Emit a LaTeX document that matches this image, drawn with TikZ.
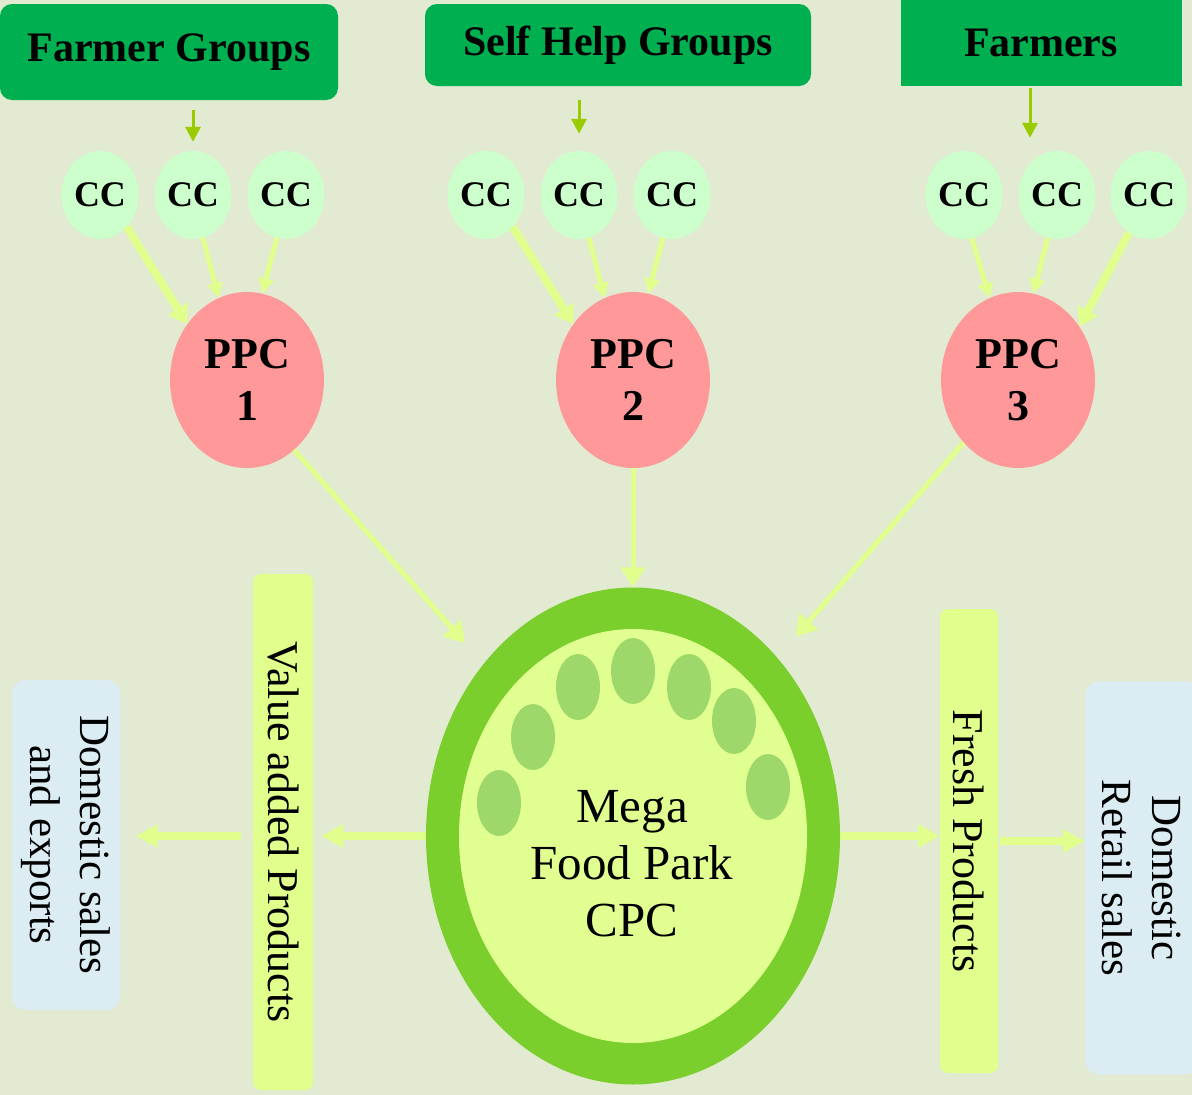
\documentclass[tikz,border=0pt]{standalone}
\usepackage{fontspec}
\setmainfont{Liberation Serif}
\usetikzlibrary{arrows.meta,shapes.geometric}

\definecolor{bgcol}{HTML}{E2EAD1}
\definecolor{boxgreen}{HTML}{00AF50}
\definecolor{cccol}{HTML}{CCFFCC}
\definecolor{ppccol}{HTML}{FF9999}
\definecolor{ringcol}{HTML}{7ACF2D}
\definecolor{parkcol}{HTML}{E1FF91}
\definecolor{seedcol}{HTML}{9FD86A}
\definecolor{salescol}{HTML}{DBEDF2}
\definecolor{flowcol}{HTML}{E0FF8C}
\definecolor{feedcol}{HTML}{99CC00}

\begin{document}
\begin{tikzpicture}[x=1pt,y=-1pt,
  every node/.style={inner sep=0pt},
  grp/.style={fill=boxgreen, rounded corners=12pt, font=\fontsize{42}{48}\selectfont\bfseries},
  cc/.style={ellipse, fill=cccol, minimum width=77pt, minimum height=88pt, font=\fontsize{36}{40}\selectfont\bfseries},
  ppc/.style={ellipse, fill=ppccol, minimum width=154pt, minimum height=176pt, align=center, font=\fontsize{44}{52}\selectfont\bfseries},
  bar/.style={fill=flowcol, rounded corners=8pt, rotate=-90, font=\fontsize{44}{50}\selectfont},
  sales/.style={fill=salescol, rounded corners=14pt, rotate=-90, align=center, font=\fontsize{43}{50}\selectfont},
  feed/.style={draw=feedcol, line width=3pt, -{Triangle[width=15pt,length=15pt]}},
  ccflow/.style={draw=flowcol, line width=5pt, -{Triangle[width=15pt,length=15pt]}},
  ccflowthick/.style={draw=flowcol, line width=8pt, -{Triangle[width=22pt,length=18pt]}},
  ppcflow/.style={draw=flowcol, line width=5pt, -{Triangle[width=24pt,length=20pt]}},
  outflow/.style={draw=flowcol, line width=8pt, -{Triangle[width=22pt,length=22pt]}}]

%%%%%%%%%%%%%%%%%%Draw Background%%%%%%%%%%%%%%%
\useasboundingbox (0,0) rectangle (1192,1095);
\fill[bgcol] (0,0) rectangle (1192,1095);

%%%%%%%%%%%%%%Draw The Source Boxes%%%%%%%%%%%%%%
\node[grp, minimum width=338pt, minimum height=96pt] (fg) at (169,52) {Farmer Groups};
\node[grp, minimum width=386pt, minimum height=82pt] (shg) at (618,45) {Self Help Groups};
\node[grp, sharp corners, minimum width=281pt, minimum height=86pt] (fm) at (1041,43) {Farmers};

%%%%%%%%%%%%%%Draw Collection Centres%%%%%%%%%%%%%%
\node[cc] (cc11) at (100,195) {CC};
\node[cc] (cc12) at (193,195) {CC};
\node[cc] (cc13) at (286,195) {CC};
\node[cc] (cc21) at (486,195) {CC};
\node[cc] (cc22) at (579,195) {CC};
\node[cc] (cc23) at (672,195) {CC};
\node[cc] (cc31) at (964,195) {CC};
\node[cc] (cc32) at (1057,195) {CC};
\node[cc] (cc33) at (1149,195) {CC};

%%%%%%%%%%%%%%Draw Primary Processing Centres%%%%%%%%%%%%%%
\node[ppc] (ppc1) at (247,380) {PPC\\1};
\node[ppc] (ppc2) at (633,380) {PPC\\2};
\node[ppc] (ppc3) at (1018,380) {PPC\\3};

%%%%%%%%%%%%%%Draw The Mega Food Park%%%%%%%%%%%%%%
\node[ellipse, fill=ringcol, minimum width=414pt, minimum height=497pt] (park) at (633,836) {};
\node[ellipse, fill=parkcol, minimum width=348pt, minimum height=414pt] (parkin) at (633,836) {};
\foreach \sx/\sy in {499/803,533/737,578/687,633/671,689/687,734/721,768/787}
  \fill[seedcol] (\sx,\sy) ellipse [x radius=22, y radius=33];
\node[align=center, font=\fontsize{49}{57}\selectfont] (parktext) at (632,864) {Mega\\Food Park\\CPC};

%%%%%%%%%%%%%%Draw Product And Sales Boxes%%%%%%%%%%%%%%
\node[bar, minimum width=516pt, minimum height=60pt] (va) at (283,832) {Value added Products};
\node[bar, minimum width=464pt, minimum height=58pt] (fp) at (969,841) {Fresh Products};
\node[sales, minimum width=330pt, minimum height=109pt] (ds) at (66,845) {Domestic sales\\and exports};
\node[sales, minimum width=393pt, minimum height=114pt] (dr) at (1142,878) {Domestic\\Retail sales};

%%%%%%%%%%%%%%Draw Feeds Into Collection Centres%%%%%%%%%%%%%%
\draw[feed, shorten <=10pt, shorten >=9pt] (fg.south -| cc12.north) -- (cc12.north);
\draw[feed, shorten <=14pt, shorten >=17pt] (shg.south -| cc22.north) -- (cc22.north);
\draw[feed, shorten <=2pt, shorten >=13pt] ([xshift=-11pt]fm.south) -- ([xshift=-11pt]fm.south |- cc32.north);

%%%%%%%%%%%%%%Draw Maps From CC to PPC%%%%%%%%%%%%%%
\draw[ccflowthick] (cc11.-50) -- (ppc1.137);
\draw[ccflow] (cc12.-77) -- (ppc1.109);
\draw[ccflow] (cc13.-102) -- (ppc1.80);
\draw[ccflowthick] (cc21.-50) -- (ppc2.137);
\draw[ccflow] (cc22.-77) -- (ppc2.109);
\draw[ccflow] (cc23.-102) -- (ppc2.80);
\draw[ccflow] (cc31.-80) -- (ppc3.109);
\draw[ccflow] (cc32.-102) -- (ppc3.80);
\draw[ccflowthick] (cc33.-118) -- (ppc3.41);

%%%%%%%%%%%%%%Draw Maps From PPC to Park%%%%%%%%%%%%%%
\draw[ppcflow, shorten >=28pt] (ppc1.-56) -- (park.131);
\draw[ppcflow] (ppc2.south) -- (park.north);
\draw[ppcflow, shorten >=28pt] (ppc3.-131) -- (park.51);

%%%%%%%%%%%%%%Draw Maps Out Of The Park%%%%%%%%%%%%%%
\draw[outflow, shorten >=8pt] (park.west) -- (park.west -| va.north);
\draw[outflow, shorten <=12pt, shorten >=15pt] (park.west -| va.south) -- (park.west -| ds.north);
\draw[outflow] (park.east) -- (park.east -| fp.south);
\draw[outflow, shorten <=2pt] (fp.north) -- (fp.north -| dr.south);

\end{tikzpicture}
\end{document}
